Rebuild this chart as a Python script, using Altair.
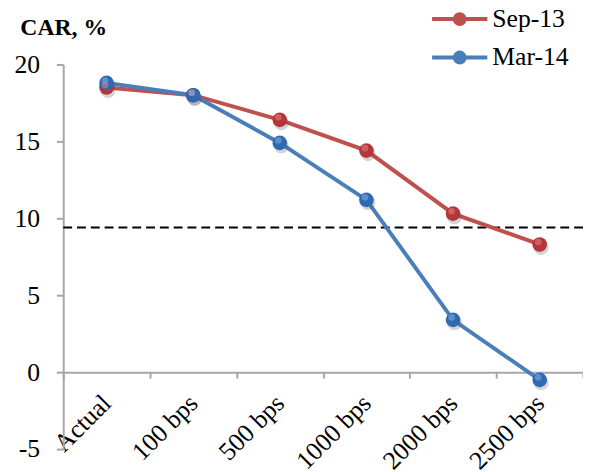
import altair as alt
import pandas as pd

# ---- data ----
categories = ["Actual", "100 bps", "500 bps", "1000 bps", "2000 bps", "2500 bps"]
sep13 = [18.5, 18.0, 16.4, 14.4, 10.3, 8.3]
mar14 = [18.8, 18.0, 14.9, 11.2, 3.4, -0.5]
series_names = ["Sep-13", "Mar-14"]
line_colors = ["#c0504d", "#4a7ebb"]
marker_colors = ["#b3373a", "#2e6ab2"]
highlight_colors = ["#e07a78", "#7fa9dc"]
threshold = [9.4]
y_ticks = [-5, 0, 5, 10, 15, 20]
y_domain = [-5, 20]
y_title = "CAR, %"

rows = []
for name, vals in zip(series_names, [sep13, mar14]):
    for c, v in zip(categories, vals):
        rows.append({"scenario": c, "CAR": v, "series": name})
df = pd.DataFrame(rows)
thr_df = pd.DataFrame({"level": threshold})

W, H = 527, 390
FONT = "Liberation Serif"
AXIS_GRAY = "#a6a6a6"
# the category axis crosses the value axis at 0
x_axis_offset = -H * (0 - y_domain[0]) / (y_domain[1] - y_domain[0])

x_enc = alt.X(
    "scenario:N",
    sort=categories,
    bandPosition=0.5,
    scale=alt.Scale(type="band", paddingInner=0, paddingOuter=0),
    axis=alt.Axis(
        title=None,
        offset=x_axis_offset,
        tickBand="extent",
        labelAngle=315,
        labelAlign="right",
        labelBaseline="middle",
        labelPadding=21,
        tickSize=6,
        labelFont=FONT,
        labelFontSize=26,
        labelColor="black",
        domainColor=AXIS_GRAY,
        domainWidth=2,
        tickColor=AXIS_GRAY,
        tickWidth=2,
        grid=False,
    ),
)
y_enc = alt.Y(
    "CAR:Q",
    scale=alt.Scale(domain=y_domain, nice=False, zero=False),
    axis=alt.Axis(
        title=y_title,
        titleAngle=0,
        titleX=-44,
        titleY=-30,
        titleAlign="left",
        titleBaseline="alphabetic",
        titleFont=FONT,
        titleFontSize=24,
        titleFontWeight="bold",
        titleColor="black",
        values=y_ticks,
        labelExpr="'' + datum.value",
        tickSize=7,
        labelPadding=17,
        labelFont=FONT,
        labelFontSize=26,
        labelColor="black",
        domainColor=AXIS_GRAY,
        domainWidth=2,
        tickColor=AXIS_GRAY,
        tickWidth=2,
        grid=False,
    ),
)

# legend symbol: a line with a disc in its middle (disc drawn with stroked rings)
legend_path = (
    "M-2,0L2,0"
    "M0.36,0A0.36,0.36,0,1,1,-0.36,0A0.36,0.36,0,1,1,0.36,0"
    "M0.11,0A0.11,0.11,0,1,1,-0.11,0A0.11,0.11,0,1,1,0.11,0"
)

base = alt.Chart(df)

lines = base.mark_line(strokeWidth=4).encode(
    x=x_enc,
    y=y_enc,
    color=alt.Color(
        "series:N",
        scale=alt.Scale(domain=series_names, range=line_colors),
        legend=alt.Legend(
            title=None,
            orient="none",
            legendX=386,
            legendY=-62,
            symbolType=legend_path,
            symbolSize=784,
            symbolStrokeWidth=4,
            symbolFillColor="transparent",
            labelFont=FONT,
            labelFontSize=26,
            labelColor="black",
            labelOffset=17,
            rowPadding=9,
        ),
    ),
    detail="series:N",
)

shadow = base.mark_circle(size=230, color="#555555", opacity=0.25, xOffset=1.5, yOffset=3).encode(
    x=x_enc,
    y=y_enc,
)

points = base.mark_circle(size=220, opacity=1).encode(
    x=x_enc,
    y=y_enc,
    fill=alt.Fill("series:N", scale=alt.Scale(domain=series_names, range=marker_colors), legend=None),
)

highlights = base.mark_circle(size=45, opacity=0.6, xOffset=-1.5, yOffset=-2.5).encode(
    x=x_enc,
    y=y_enc,
    fill=alt.Fill("series:N", scale=alt.Scale(domain=series_names, range=highlight_colors), legend=None),
)

rule = alt.Chart(thr_df).mark_rule(color="black", strokeWidth=2, strokeDash=[9, 5]).encode(
    y=alt.Y("level:Q", scale=alt.Scale(domain=y_domain, nice=False, zero=False))
)

chart = (
    alt.layer(rule, lines, shadow, points, highlights)
    .resolve_scale(fill="independent")
    .properties(
        width=W,
        height=H,
        autosize=alt.AutoSizeParams(type="none"),
        padding={"left": 56, "top": 54, "right": 0, "bottom": 20},
    )
    .configure_view(stroke=None)
)

chart.save("out.html", embed_options={"renderer": "svg", "actions": False})
